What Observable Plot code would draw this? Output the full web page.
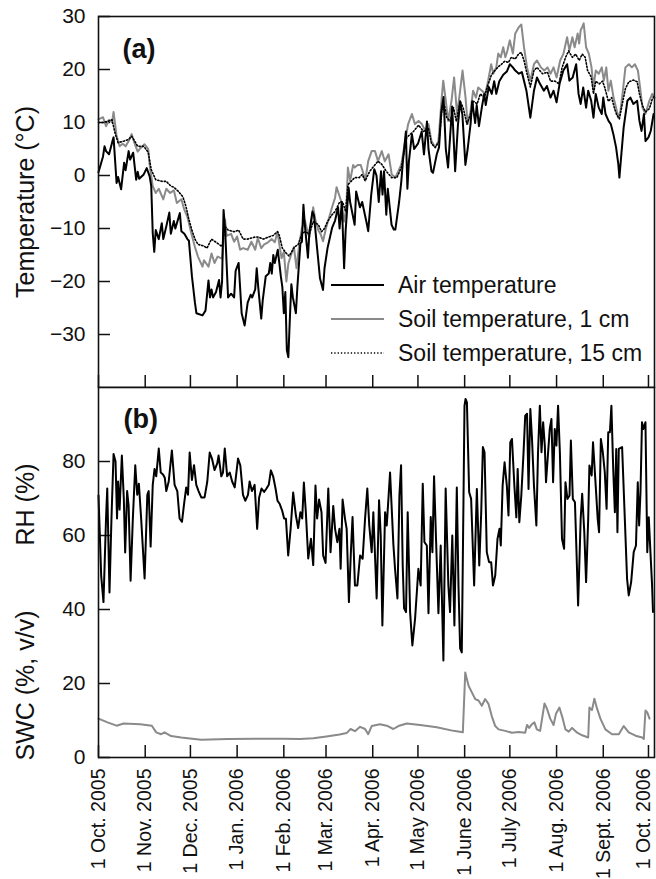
<!DOCTYPE html>
<html><head><meta charset="utf-8">
<script src="https://cdn.jsdelivr.net/npm/d3@7"></script>
<script src="https://cdn.jsdelivr.net/npm/@observablehq/plot@0.6"></script>
<style>
html,body{margin:0;padding:0;background:#fff;overflow:hidden;}
#chart{position:relative;width:656px;height:879px;overflow:hidden;}
#chart svg{position:absolute;left:0;}
</style></head><body><div id="chart"></div>
<script>
// ---- Data (day offset from 1 Oct 2005, value) ----
const monthDays = [0,31,61,92,123,151,182,212,243,273,304,335,365];
const monthLabels = ["1 Oct. 2005","1 Nov. 2005","1 Dec. 2005","1 Jan. 2006","1 Feb. 2006","1 Mar. 2006","1 Apr. 2006","1 May 2006","1 June 2006","1 July 2006","1 Aug. 2006","1 Sept. 2006","1 Oct. 2006"];
const tempTicks = [-30,-20,-10,0,10,20,30];
const humTicks = [0,20,40,60,80];
const seriesNames = ["Air temperature","Soil temperature, 1 cm","Soil temperature, 15 cm"];

const airTemp = [[0,0.6],[3,3.6],[4,5.5],[5,4.6],[7,4],[9,6.2],[10,7.2],[12,-1.4],[13,-0.3],[15,-2.6],[17,2.4],[18,1],[20,4.6],[21,3],[23,4.3],[25,-0.8],[26,0.7],[27,-0.6],[30,0.2],[32,1.4],[34,-0.2],[35,-2],[36,-10.9],[37,-14.4],[38,-10.3],[40,-12],[42,-9],[43,-12],[45,-9.6],[47,-7],[48,-11],[50,-8.6],[51,-10],[54,-7.1],[55,-10.5],[57,-11],[59,-12],[60,-12.3],[62,-19],[64,-24],[65,-26],[69,-26.4],[71,-25.5],[73,-19.8],[74,-23],[75,-21.5],[76,-23],[78,-22],[80,-19.7],[81,-23],[82,-20],[83,-6.5],[84,-10],[86,-23],[88,-22.3],[90,-23],[91,-18],[93,-16.5],[95,-26],[97,-28.3],[99,-24],[101,-22.5],[102,-23],[104,-21.5],[105,-17.5],[106,-21],[108,-27],[109,-23.5],[111,-19],[113,-18.5],[114,-16.5],[115,-18.5],[116,-15],[117,-16.5],[119,-14],[121,-19],[122,-21],[123,-26],[124,-22],[125,-33],[126,-34.3],[127,-27],[128,-20.5],[129,-23],[131,-26],[132,-21],[134,-12.8],[135,-12.5],[136,-5.5],[137,-9.5],[139,-15.5],[140,-10.5],[142,-6.8],[143,-7.5],[145,-13.5],[147,-19.4],[149,-21.6],[150,-17.5],[152,-13.7],[155,-9.9],[157,-8.5],[159,-6],[160,-10],[161.5,-5],[163,-17.5],[164,-10.5],[166,-2.3],[167,-5],[170,-9.3],[171,-3],[173.5,-6],[175,-5],[178,-9],[179,-10.5],[181,-3.6],[183,1.2],[184.5,0],[186,-5],[187.5,0.8],[188.5,-3.6],[189.5,0.8],[191,-7.4],[192,-2.5],[194.5,-9.3],[196,-10.2],[197,-10.2],[199.5,-5],[201,-1],[202,2.6],[204,8.3],[205,-2.5],[206,2.6],[208,7.8],[209.5,5],[212,6],[214.5,8.3],[216,4],[218,10.2],[219,5],[221,0.8],[222,0.5],[224.5,4],[226,5.3],[227.5,12],[229,14.8],[230.5,5],[232,1.5],[233.5,8],[234.7,13],[236.7,0.8],[238.5,9.3],[240,14],[241.5,11.5],[243.5,2],[245,5],[247,9.9],[248,14],[250,9.9],[251,13.3],[252.5,9.3],[254.5,13],[256,15.4],[257,13.3],[259,16.7],[261,15.4],[262.6,17.8],[264,15.4],[266,17.8],[268.6,19],[271,19.6],[273,21],[275,20.4],[276.6,19.8],[279,19.2],[281,19.5],[284,16],[286.6,10.9],[289,16],[291,18.5],[293,17.3],[295.6,16],[297.6,16.9],[300,14.7],[302,16],[304,13.8],[306,17.3],[308.5,19.8],[311,21],[312.5,17.9],[314.7,18.5],[317,21],[318.6,15.4],[320,13.5],[321.7,16.6],[323.6,12.8],[325,16],[327,14.1],[328.5,10.9],[330,15.4],[332,12.8],[334,11.6],[335,14.7],[336.5,11.6],[338.5,10.3],[340,9.7],[341.7,7.8],[343.5,5.3],[345,2.1],[345.7,-0.4],[347,4],[348.5,9],[351,14.1],[353,14.7],[355,13.5],[357.5,14.1],[359,10.3],[360.4,8.4],[362,11.6],[363,6.5],[365,7.2],[366.5,8.4],[368.4,11.6]];

const soil1cm = [[0,10.6],[3,11],[5,9.3],[7,10.5],[9,10],[10,12],[12,7.5],[14,5.5],[16,6],[18,5.5],[20,6.5],[22,7.8],[24,6],[26,4.5],[28,5.2],[30.5,5.9],[33,5],[34,1.8],[36,-2],[38,-3.3],[40,-2.5],[43,-4.5],[45,-2.5],[47.5,-3.3],[50,-2.8],[52,-5.2],[55,-4.5],[57,-6.5],[59,-7.8],[61.6,-10.9],[64,-13.5],[66,-15.3],[69,-17.2],[70,-16],[73,-17.2],[75,-14.7],[77,-16.5],[79,-15.3],[82,-15.7],[84,-8.3],[85,-11.4],[88,-11],[90,-12.5],[92,-11.5],[94,-14],[96,-13.7],[99,-14],[101.5,-12.5],[104,-14],[105.7,-11.8],[108,-13.7],[110,-13],[112.5,-12.6],[115,-12],[117,-12.6],[118.8,-10.6],[120,-13],[121.5,-15.6],[123,-14.4],[124.7,-20],[126,-16.6],[128,-14.8],[129.7,-13.5],[131.4,-17.5],[133,-13.5],[135,-9.9],[137,-8.5],[139,-11],[140,-11.6],[142.5,-6],[144,-8.5],[146,-10.4],[147.6,-11.2],[149,-12.4],[151,-9.9],[153.6,-7.4],[155,-6],[157,-4.2],[158,-2.2],[159.5,-3.5],[161,-4.8],[163,-8.7],[164.5,-6],[165.5,1.5],[167,-1],[169,2],[170,1.5],[172,2],[174,2],[176,0.2],[177,-1],[179,2.7],[181.3,4.6],[183.5,4.6],[185.5,2.7],[188,4.6],[190,2.7],[192.5,4],[194.6,0.2],[197,-0.4],[199,0.8],[201,2.1],[203.5,6.5],[205.5,9.7],[208,11.6],[210,9.7],[212.4,10.3],[214.6,9.7],[217,8.4],[219,9.7],[221,6.5],[223.5,5.3],[225.6,6.5],[227.8,14.7],[228.8,17.9],[230.5,14.1],[232,10.3],[234.3,14.1],[236,18.5],[238,11.5],[240,16],[241.6,19.8],[243.6,14.7],[245,9.7],[247,12.2],[248.6,16],[250.5,14.7],[252,16.6],[254.5,16],[256.6,15.4],[258.6,17.9],[260.6,21],[262,19.2],[264,20.4],[265.3,23],[267,22.3],[268.6,24.2],[270,22.3],[271.4,23.6],[273,25.5],[275,23],[276.6,26.8],[279,28],[280.6,28.5],[282.4,24.2],[284.4,20.4],[286.6,17.9],[289,21],[291,21.7],[293.6,20.4],[295.8,19.8],[298,20.4],[300,19.2],[302,20.4],[304,18.5],[306.4,21.7],[308.6,23],[311,26.1],[312.5,23.6],[314.5,26.1],[316,24.2],[318,26.8],[319,24.9],[320,27.4],[321,28],[322,28.7],[323.6,24.2],[325.4,23],[327.2,20.4],[328.5,16.6],[330,19.8],[332,19.2],[334,20.4],[335.4,17.9],[337,20.4],[338.4,16],[340,17.9],[341.8,14.7],[343.5,12.8],[345,10.9],[346.4,12.2],[347.8,15.4],[349.7,20.4],[352,21],[354,20.4],[356,21],[358,19.8],[359.7,16],[361,12.8],[363,11.6],[365.6,14.1],[367.5,15.4],[369,14.7]];

const soil15cm = [[0,10],[3,10],[7,10.3],[9,10.5],[11,8],[13,6.2],[17,6.5],[20,6.8],[22,7.4],[24,6.5],[26,5.5],[30,5.5],[33,4.4],[35,1.1],[38,-0.8],[42,-1.1],[45,-1.1],[48,-2],[50,-2.2],[53,-3],[56,-4],[58,-5.8],[60,-8.3],[62,-10.3],[64,-12],[66,-13],[70,-13.3],[72,-13.7],[75,-12],[78,-12.6],[82,-13.4],[84,-9.6],[86,-10.3],[90,-10.6],[93,-10.3],[96,-12],[99,-12],[101.5,-11.8],[104,-11.6],[106,-11.6],[109.5,-12],[113,-11.6],[116,-11.3],[118.8,-10.6],[120,-11.3],[122,-13.7],[124.7,-14.7],[126.5,-15.2],[128,-14.5],[130,-13.5],[132.5,-13],[135,-11],[137,-10.6],[140,-11],[142.5,-8.7],[146,-9.3],[148,-10.6],[150,-10],[152,-8.7],[155,-7.4],[157,-6.8],[160,-5],[162,-5],[164,-6.8],[165.6,-1.7],[168,-1],[170,-0.4],[173,-0.4],[175,0.2],[177,-1],[180,0.8],[182,1.5],[185.5,2.7],[188,2.1],[191,0.8],[194.6,-0.4],[198,-0.4],[201,1.5],[204.6,7.2],[207,7.8],[209,8.3],[212.4,9.5],[215.7,8.3],[219,8.9],[221,6],[223.5,5.3],[226,6.4],[227.8,12],[229.6,13.3],[231,11],[233.5,10.2],[235.6,12.8],[237.5,10.2],[240,14],[242,12.8],[244.5,9.7],[247,11.6],[249,14],[251.3,13.5],[253.4,15.4],[256,14.7],[258.6,17.2],[260.8,19],[263,19.8],[265.3,20.5],[267.5,21],[269.7,21.6],[272,21.3],[274,22.3],[276.6,22],[279,23],[280.6,23.2],[282.4,21.7],[284.4,19.2],[286.6,16.7],[289,19.8],[291,20.4],[294.7,19.2],[298,19.5],[300,17.8],[303,17.8],[305.6,17.3],[307.7,20.4],[310,22.3],[312,23.5],[314.5,22.3],[316.7,22.9],[319,21.7],[321,22.9],[323,22.3],[324.6,19.8],[327,18.6],[328.5,15.4],[330,17.8],[332.3,17.3],[334.5,17.8],[336,16.6],[338.4,14],[340.6,14.7],[342.5,12.6],[344,11.4],[345.7,10.7],[347.4,13.2],[349.7,16.4],[352,17.7],[355,18],[357.5,17.7],[359,15.4],[361,13.2],[363,12],[365.6,12.6],[367.5,14.4],[369,15]];

const relHum = [[0,70.8],[1.8,49],[3.3,42],[5,64.6],[5.8,72.7],[7.3,44.6],[8.6,64.6],[10,82],[11.3,80],[12.3,64.6],[13,74.6],[14,67],[15.5,81.6],[16.8,70],[17.7,55.4],[19,72],[20,68],[21.3,47.8],[22.8,64.6],[24.4,79],[25.7,71],[26.8,74],[28.3,64.6],[30.6,48.4],[32.4,71],[33.3,72],[34.6,57],[36,73.7],[37.2,78],[38.3,76],[40,83.5],[41.3,77],[42.8,76.5],[44,75.6],[45,72],[46.6,74.6],[48.7,83],[50.5,73.7],[52.3,72],[53.8,64.6],[55.4,63.7],[56.7,68.2],[58.2,73],[59.4,71],[60.5,82.4],[62,75],[63.4,79],[64.9,73.7],[66.4,72],[68.2,70.3],[70.4,70.3],[72.2,74.6],[73.8,82.4],[75.3,80.8],[77,77.7],[78.8,79.5],[79.7,81.6],[81.5,76],[82.6,77],[83.8,83.5],[85.4,76],[87.1,77],[88.7,74.6],[90.4,73],[92.6,80.8],[94.1,79],[95.9,71],[97.4,69.4],[99.2,71],[100.3,74.6],[101.8,72],[103.6,73.7],[105.3,61.8],[106.6,70.3],[108.2,72.7],[109.9,71.8],[111.5,72.7],[113,73.7],[114.4,77.6],[115.9,76],[117.5,72.7],[118.8,69.4],[120.3,68.5],[121.9,66.7],[123.2,64.6],[124.4,64.5],[125.9,54.6],[127.5,61.8],[129.2,71.6],[131,65.4],[132.5,62],[134,66.3],[135.2,64.6],[136.3,74.3],[137.6,66.3],[139.2,53.8],[141,59.1],[142.5,52],[144,73.5],[145.1,64.6],[146.4,69.7],[148,66.3],[149.1,54.6],[150.7,52.6],[152.5,72.7],[154,55.5],[155.8,68],[157,61.8],[158.5,58.2],[159.9,61.8],[160.7,51],[162,69.7],[163.6,64.5],[164.7,61.8],[166.2,42],[167.5,55.5],[168.6,65],[170.2,46.5],[171.8,46.5],[173.6,54.6],[175.3,53.7],[176.9,64.5],[178.4,72.7],[179.7,62.7],[181.3,55.5],[182.4,66.3],[184.6,43],[186.2,69.5],[187.3,60],[188.4,35.7],[190.2,66.3],[191.3,62.7],[193.5,77],[195.7,57.6],[196.8,51],[198.4,43],[199.7,70.8],[200.8,79],[201.9,51.9],[202.8,40.3],[204.1,39.3],[205.2,66.3],[206.8,39.3],[208.3,30.3],[210.1,37.5],[212.3,51],[213.8,46.5],[215.2,74],[216.3,58.2],[217.9,57.3],[219,39],[220.5,65],[221.6,55.5],[222.7,76],[224,59.1],[225.6,39],[227.1,57.3],[228.9,26.2],[230.4,72.7],[232.2,46.5],[233.3,39.3],[234.8,60],[236.2,35.7],[237.8,73],[238.9,46.5],[240,29.5],[241.1,28.4],[241.8,53.7],[242.9,95],[243.6,96.9],[244.5,96],[246,71.7],[247.3,69.9],[249.3,46.5],[251.1,72.6],[252.7,51.9],[254,66.3],[255.1,83.9],[256.2,82.5],[257.7,55.5],[259.2,52.8],[260.6,52.8],[261.8,46.5],[263.3,49.2],[264.8,59.1],[266.1,61.8],[267,57.3],[268.2,73.5],[269.5,79.8],[271,73.5],[272.1,65.4],[273.3,85.2],[274.4,86.1],[276,73.5],[277.3,64.9],[278.2,78],[279.3,63.6],[280.6,70.8],[282.1,82.5],[283.2,92.4],[284.4,92.9],[285.4,72.6],[286.6,94.2],[287.7,86.1],[289,73.5],[290.6,62.7],[291.7,82.5],[292.9,95.1],[294,82.5],[295.1,90.6],[296.2,84.3],[297,74.4],[298.4,82.5],[299.5,88.8],[300.6,91.5],[301.7,74.4],[302.8,88.8],[303.9,84.3],[305,95.1],[306.2,82.5],[307.6,59.1],[309,56.4],[309.9,74.4],[311.2,69.9],[312.6,70.8],[313.5,85.7],[314.8,69.9],[316.2,69],[317.1,57.3],[318.3,41.1],[320,64.5],[321,71.3],[322.4,60.9],[323.6,47.4],[325,64.5],[325.8,78.9],[327.3,76.2],[328.2,85.2],[329.7,75.3],[331.3,64.5],[332.2,60.9],[333.4,86.1],[334.7,82.5],[336,77.1],[337.2,67.2],[338.3,87.9],[339.4,87.9],[340.4,95.1],[341.6,78],[342.7,66.3],[343.6,83.4],[344.4,60.9],[345.3,83.4],[347.5,83.9],[349.3,64.5],[350.8,48.3],[351.9,43.8],[353.5,47.4],[355.2,55.5],[356.7,57.3],[357.9,74.4],[358.8,62.7],[359.7,71.7],[360.7,90.6],[361.6,88.8],[363,90.6],[364.2,55.5],[365.2,64.9],[366.3,55.5],[367.4,46.5],[368,39.3]];

const soilWater = [[0,10.5],[6,9.5],[12,8.6],[16.7,9.2],[27.7,9],[35.4,8.6],[38.3,6.8],[41.6,6.3],[43.8,6.8],[48.2,5.8],[54.9,5.4],[63.7,5],[68.2,4.8],[85.9,5],[108,5.1],[123,5.1],[133.6,5],[142.5,5.2],[151.3,5.7],[160,6.2],[164.7,6.6],[167.3,7.7],[170.2,7.1],[173.6,8.3],[176.9,7.7],[179,6.3],[181.3,8.5],[186.8,9],[191.3,8.6],[195.7,7.7],[199,8.5],[204.6,9.2],[213.5,8.8],[224.5,8.2],[235.6,7.2],[241.8,6.8],[243.4,23],[245.6,19.4],[247.8,17.6],[250,15.8],[252.2,15.4],[254.4,14],[256.6,15.8],[258.8,14.5],[261,11.2],[263.3,8.5],[265.5,7.6],[269.9,7.2],[274.4,6.7],[278.8,6.9],[283.2,6.7],[284.4,8.8],[285.8,8],[287.7,9],[289.3,9.5],[290.9,7.6],[293.1,7.2],[296,14.6],[297.6,13.2],[299.8,10.5],[302,8.8],[303.6,11.8],[305.9,13.5],[308.1,10.5],[309.9,7.6],[312.1,7],[314.3,8],[317.7,6.7],[321,6],[325,5.4],[325.8,13.5],[327.5,12.8],[329.1,15.9],[330.9,13.2],[333.1,10.5],[336.4,7.6],[340.8,6.3],[345.3,6.3],[348.6,8.5],[351.9,6.8],[356.4,5.9],[360.8,5.4],[361.9,5],[363,12.7],[364.2,12.2],[365.7,10.5]];

// ---- Styling ----
const FONT = "'Liberation Sans', Arial, Helvetica, sans-serif";
const GRAY = "#8a8a8a";
const INK = "#111";
const xDomain = [0, 369];
const labelByDay = new Map(monthDays.map((d, i) => [d, monthLabels[i]]));
const X = d => d[0], Y = d => d[1];
const TICK = 12;          // inward tick length (px)
const W = 656, ML = 98, MR = 2;
const frameW = W - ML - MR;
const xLabelStyle = {tickSize: 0, tickPadding: 11, tickRotate: -90, tickFormat: d => labelByDay.get(d), label: null, fontSize: 19.5};

const chart = document.getElementById("chart");

// Panel (a)
const hA = 388, mtA = 16, mbA = 1, frameHA = hA - mtA - mbA;
const plotA = Plot.plot({
  width: W, height: hA,
  marginLeft: ML, marginRight: MR, marginTop: mtA, marginBottom: mbA,
  style: {fontFamily: FONT, background: "transparent", color: INK},
  x: {domain: xDomain, axis: null},
  y: {domain: [-40, 30]},
  marks: [
    Plot.axisY(tempTicks, {tickSize: 0, tickPadding: 13, label: null, fontSize: 21}),
    Plot.tickY(tempTicks, {y: d => d, stroke: INK, strokeWidth: 1.5, insetRight: frameW - TICK}),
    Plot.tickX(monthDays, {x: d => d, stroke: INK, strokeWidth: 1.5, insetTop: frameHA - TICK}),
    Plot.line(soil1cm, {x: X, y: Y, stroke: GRAY, strokeWidth: 2}),
    Plot.line(soil15cm, {x: X, y: Y, stroke: "#000", strokeWidth: 1.6, strokeDasharray: "1.3,2"}),
    Plot.line(airTemp, {x: X, y: Y, stroke: "#000", strokeWidth: 2}),
    Plot.frame({stroke: INK, strokeWidth: 1.6}),
    Plot.text(["(a)"], {text: d => d, frameAnchor: "top-left", dx: 24, dy: 33, textAnchor: "start", lineAnchor: "middle", fontSize: 27, fontWeight: "bold"}),
    Plot.text(["Temperature (°C)"], {text: d => d, frameAnchor: "left", dx: -73, rotate: -90, textAnchor: "middle", lineAnchor: "middle", fontSize: 25})
  ]
});
plotA.style.top = "0px";
chart.appendChild(plotA);

// Panel (b)
const hB = 493, mtB = 1, mbB = 122, frameHB = hB - mtB - mbB;
const plotB = Plot.plot({
  width: W, height: hB,
  marginLeft: ML, marginRight: MR, marginTop: mtB, marginBottom: mbB,
  style: {fontFamily: FONT, background: "transparent", color: INK},
  x: {domain: xDomain},
  y: {domain: [0, 100]},
  marks: [
    Plot.axisY(humTicks, {tickSize: 0, tickPadding: 13, label: null, fontSize: 21}),
    Plot.tickY(humTicks, {y: d => d, stroke: INK, strokeWidth: 1.5, insetRight: frameW - TICK}),
    Plot.tickX(monthDays, {x: d => d, stroke: INK, strokeWidth: 1.5, insetTop: frameHB - TICK}),
    Plot.axisX(monthDays.slice(0, -1), xLabelStyle),
    Plot.axisX(monthDays.slice(-1), {...xLabelStyle, dx: -5}),
    Plot.line(soilWater, {x: X, y: Y, stroke: GRAY, strokeWidth: 2}),
    Plot.line(relHum, {x: X, y: Y, stroke: "#000", strokeWidth: 2}),
    Plot.frame({stroke: INK, strokeWidth: 1.6}),
    Plot.text(["(b)"], {text: d => d, frameAnchor: "top-left", dx: 25, dy: 32, textAnchor: "start", lineAnchor: "middle", fontSize: 27, fontWeight: "bold"}),
    Plot.text(["RH (%)"], {text: d => d, frameAnchor: "left", dx: -73, dy: -68, rotate: -90, textAnchor: "middle", lineAnchor: "middle", fontSize: 25}),
    Plot.text(["SWC (%, v/v)"], {text: d => d, frameAnchor: "left", dx: -73, dy: 113, rotate: -90, textAnchor: "middle", lineAnchor: "middle", fontSize: 25})
  ]
});
plotB.style.top = "386px";
chart.appendChild(plotB);

// ---- Legend (inside panel a) ----
const legendStyles = [
  {stroke: "#000", width: 2, dash: null},
  {stroke: GRAY, width: 2, dash: null},
  {stroke: "#000", width: 1.6, dash: "1.3,2"}
];
const leg = d3.select(chart).append("svg")
  .attr("width", 656).attr("height", 879)
  .style("top", "0px").style("pointer-events", "none");
const rows = leg.selectAll("g").data(seriesNames).join("g")
  .attr("transform", (d, i) => `translate(331,${285 + i * 34})`);
rows.append("line").attr("x1", 0).attr("x2", 53).attr("y1", 0).attr("y2", 0)
  .attr("stroke", (d, i) => legendStyles[i].stroke)
  .attr("stroke-width", (d, i) => legendStyles[i].width)
  .attr("stroke-dasharray", (d, i) => legendStyles[i].dash);
rows.append("text").attr("x", 67).attr("y", 0).attr("dy", "0.35em")
  .attr("font-family", FONT).attr("font-size", 23).attr("fill", INK)
  .text(d => d);
</script></body></html>
